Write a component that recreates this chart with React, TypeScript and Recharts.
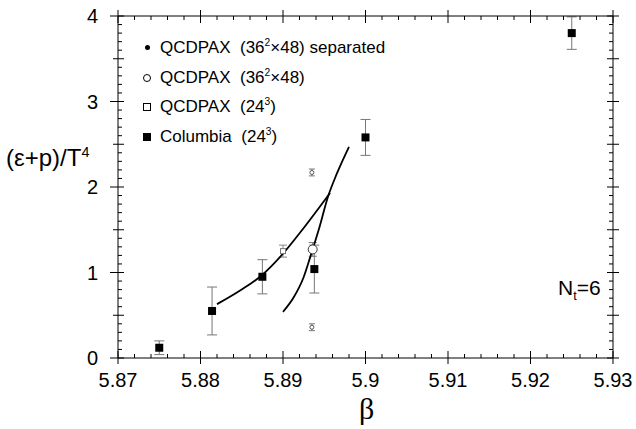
import React from 'react';
import { ScatterChart, Scatter, XAxis, YAxis, ErrorBar } from 'recharts';

// Columbia 24^3 (filled squares)
const COLUMBIA_BETA = [5.875, 5.8814, 5.8875, 5.8938, 5.9, 5.925];
const COLUMBIA_E = [0.12, 0.55, 0.95, 1.04, 2.58, 3.8];
const COLUMBIA_ERR = [0.08, 0.28, 0.2, 0.28, 0.21, 0.19];

// QCDPAX 36^2x48 (open circle)
const QCD36_BETA = [5.8936];
const QCD36_E = [1.27];
const QCD36_ERR = [0.08];

// QCDPAX 24^3 (open square)
const QCD24_BETA = [5.89];
const QCD24_E = [1.25];
const QCD24_ERR = [0.07];

// QCDPAX 36^2x48 separated (small dots)
const SEP_BETA = [5.8935, 5.8935];
const SEP_E = [2.17, 0.36];
const SEP_ERR = [0.04, 0.04];

// fitted curves
const CURVE_A_BETA = [5.882, 5.8848, 5.8874, 5.89, 5.8921, 5.8957];
const CURVE_A_E = [0.63, 0.79, 0.965, 1.22, 1.47, 1.93];
const CURVE_B_BETA = [5.89, 5.8913, 5.8925, 5.8933, 5.8943, 5.8955, 5.8965, 5.898];
const CURVE_B_E = [0.54, 0.71, 0.945, 1.18, 1.49, 1.9, 2.15, 2.47];

const X_TICKS = [5.87, 5.88, 5.89, 5.9, 5.91, 5.92, 5.93];
const X_TICK_LABELS = ['5.87', '5.88', '5.89', '5.9', '5.91', '5.92', '5.93'];
const Y_TICKS = [0, 1, 2, 3, 4];
const Y_TICK_LABELS = ['0', '1', '2', '3', '4'];

const LEGEND_ITEMS = [
  { marker: 'dot', name: 'QCDPAX', size: ['36', '2', '\u00d748'], tail: ' separated' },
  { marker: 'circle', name: 'QCDPAX', size: ['36', '2', '\u00d748'], tail: '' },
  { marker: 'osquare', name: 'QCDPAX', size: ['24', '3', ''], tail: '' },
  { marker: 'square', name: 'Columbia', size: ['24', '3', ''], tail: '' },
];

const pts = (xs: number[], ys: number[], es?: number[]) =>
  xs.map((x, i) => ({ x, y: ys[i], err: es ? es[i] : 0 }));

// minor ticks: 5 subdivisions between majors
const subdivide = (major: number[], n: number) => {
  const out: number[] = [];
  for (let i = 0; i < major.length - 1; i++) {
    for (let k = 0; k < n; k++) out.push(+(major[i] + ((major[i + 1] - major[i]) * k) / n).toFixed(6));
  }
  out.push(major[major.length - 1]);
  return out;
};
const X_ALL = subdivide(X_TICKS, 5);
const Y_ALL = subdivide([0, 0.5, 1, 1.5, 2, 2.5, 3, 3.5, 4], 5);

const near = (a: number, b: number) => Math.abs(a - b) < 1e-6;
const xLabel = (v: number) => {
  const i = X_TICKS.findIndex((t) => near(t, v));
  return i >= 0 ? X_TICK_LABELS[i] : null;
};
const yLabel = (v: number) => {
  const i = Y_TICKS.findIndex((t) => near(t, v));
  return i >= 0 ? Y_TICK_LABELS[i] : null;
};
const yHalf = (v: number) => near(v * 2, Math.round(v * 2));

const FONT = '"Liberation Sans", Arial, Helvetica, sans-serif';

const BottomTick = (props: any) => {
  const { x, y, payload } = props;
  const lab = xLabel(payload.value);
  return (
    <g>
      <line x1={x} x2={x} y1={lab ? y + 6 : y} y2={lab ? y - 7 : y - 4} stroke="#000" strokeWidth={1} />
      {lab && (
        <text x={x} y={y + 29} textAnchor="middle" fontSize={20} fontFamily={FONT} fill="#000">
          {lab}
        </text>
      )}
    </g>
  );
};

const TopTick = (props: any) => {
  const { x, y, payload } = props;
  const lab = xLabel(payload.value);
  return <line x1={x} x2={x} y1={lab ? y - 6 : y} y2={lab ? y + 7 : y + 4} stroke="#000" strokeWidth={1} />;
};

const LeftTick = (props: any) => {
  const { x, y, payload } = props;
  const lab = yLabel(payload.value);
  const half = yHalf(payload.value);
  return (
    <g>
      <line x1={lab ? x - 8 : half ? x - 5 : x} x2={half ? x + 6 : x + 4} y1={y} y2={y} stroke="#000" strokeWidth={1} />
      {lab && (
        <text x={x - 20} y={y + 7} textAnchor="end" fontSize={20} fontFamily={FONT} fill="#000">
          {lab}
        </text>
      )}
    </g>
  );
};

const RightTick = (props: any) => {
  const { x, y, payload } = props;
  const half = yHalf(payload.value);
  return <line x1={half ? x + 6 : x} x2={half ? x - 6 : x - 4} y1={y} y2={y} stroke="#000" strokeWidth={1} />;
};

const FilledSquare = (p: any) => <rect x={p.cx - 4} y={p.cy - 4} width={8} height={8} fill="#000" />;
const OpenCircle = (p: any) => <circle cx={p.cx} cy={p.cy} r={4.5} fill="#fff" stroke="#333" strokeWidth={1} />;
const OpenSquare = (p: any) => <rect x={p.cx - 2.5} y={p.cy - 2.5} width={5} height={5} fill="#fff" stroke="#777" strokeWidth={1} />;
const SmallDot = (p: any) => <circle cx={p.cx} cy={p.cy} r={2} fill="#fff" stroke="#555" strokeWidth={1} />;
const NoShape = () => <g />;

const LegendMarker = ({ kind }: { kind: string }) => {
  if (kind === 'dot') return <span style={{ display: 'inline-block', width: 5, height: 5, borderRadius: 3, background: '#000' }} />;
  if (kind === 'circle') return <span style={{ display: 'inline-block', width: 6, height: 6, borderRadius: 5, border: '1.5px solid #000' }} />;
  if (kind === 'osquare') return <span style={{ display: 'inline-block', width: 6, height: 6, border: '1.5px solid #000' }} />;
  return <span style={{ display: 'inline-block', width: 8, height: 8, background: '#000' }} />;
};

export default function App() {
  const sup = { fontSize: '0.6em', verticalAlign: 'super', lineHeight: 0 } as const;
  return (
    <div style={{ position: 'absolute', left: 0, top: 0, width: 636, height: 429, background: '#fff', fontFamily: FONT }}>
      <ScatterChart width={636} height={429} margin={{ top: 6, right: 13, bottom: 31, left: 78 }}>
        <XAxis xAxisId="b" type="number" dataKey="x" domain={[5.87, 5.93]} ticks={X_ALL} interval={0}
          tick={<BottomTick />} tickLine={false} tickSize={0} tickMargin={0} height={40}
          allowDataOverflow axisLine={{ stroke: '#000' }} />
        <XAxis xAxisId="t" orientation="top" type="number" dataKey="x" domain={[5.87, 5.93]} ticks={X_ALL} interval={0}
          tick={<TopTick />} tickLine={false} tickSize={0} tickMargin={0} height={10}
          allowDataOverflow axisLine={{ stroke: '#000' }} />
        <YAxis yAxisId="l" type="number" dataKey="y" domain={[0, 4]} ticks={Y_ALL} interval={0}
          tick={<LeftTick />} tickLine={false} tickSize={0} tickMargin={0} width={40}
          allowDataOverflow axisLine={{ stroke: '#000' }} />
        <YAxis yAxisId="r" orientation="right" type="number" dataKey="y" domain={[0, 4]} ticks={Y_ALL} interval={0}
          tick={<RightTick />} tickLine={false} tickSize={0} tickMargin={0} width={10}
          allowDataOverflow axisLine={{ stroke: '#000' }} />

        <Scatter xAxisId="b" yAxisId="l" data={pts(CURVE_A_BETA, CURVE_A_E)} shape={NoShape}
          line={{ stroke: '#000', strokeWidth: 1.8 }} lineJointType="monotoneX" isAnimationActive={false} />
        <Scatter xAxisId="b" yAxisId="l" data={pts(CURVE_B_BETA, CURVE_B_E)} shape={NoShape}
          line={{ stroke: '#000', strokeWidth: 1.8 }} lineJointType="monotoneX" isAnimationActive={false} />

        <Scatter xAxisId="b" yAxisId="l" data={pts(SEP_BETA, SEP_E, SEP_ERR)} shape={SmallDot} isAnimationActive={false}>
          <ErrorBar dataKey="err" direction="y" width={3} stroke="#777" strokeWidth={1} />
        </Scatter>
        <Scatter xAxisId="b" yAxisId="l" data={pts(QCD24_BETA, QCD24_E, QCD24_ERR)} shape={OpenSquare} isAnimationActive={false}>
          <ErrorBar dataKey="err" direction="y" width={4} stroke="#888" strokeWidth={1} />
        </Scatter>
        <Scatter xAxisId="b" yAxisId="l" data={pts(QCD36_BETA, QCD36_E, QCD36_ERR)} shape={OpenCircle} isAnimationActive={false}>
          <ErrorBar dataKey="err" direction="y" width={4} stroke="#777" strokeWidth={1} />
        </Scatter>
        <Scatter xAxisId="b" yAxisId="l" data={pts(COLUMBIA_BETA, COLUMBIA_E, COLUMBIA_ERR)} shape={FilledSquare} isAnimationActive={false}>
          <ErrorBar dataKey="err" direction="y" width={5} stroke="#777" strokeWidth={1} />
        </Scatter>
      </ScatterChart>

      {/* legend */}
      <div style={{ position: 'absolute', left: 134, top: 33, fontSize: 17, color: '#000' }}>
        {LEGEND_ITEMS.map((it, i) => (
          <div key={i} style={{ height: 29.8, display: 'flex', alignItems: 'center', whiteSpace: 'nowrap' }}>
            <span style={{ width: 26, display: 'inline-flex', justifyContent: 'center' }}>
              <LegendMarker kind={it.marker} />
            </span>
            <span>
              {it.name}&nbsp; ({it.size[0]}
              <span style={sup}>{it.size[1]}</span>
              {it.size[2]}){it.tail}
            </span>
          </div>
        ))}
      </div>

      {/* N_t = 6 */}
      <div style={{ position: 'absolute', left: 558, top: 276, fontSize: 21, whiteSpace: 'nowrap' }}>
        N<span style={{ fontSize: '0.6em', verticalAlign: 'sub', lineHeight: 0 }}>t</span>=6
      </div>

      {/* axis titles */}
      <div style={{ position: 'absolute', left: 6, top: 144, fontSize: 24, whiteSpace: 'nowrap' }}>
        ({'\u03b5'}+p)/T<span style={sup}>4</span>
      </div>
      <div style={{ position: 'absolute', left: 359, top: 392, fontSize: 30, fontFamily: '"Liberation Serif", serif' }}>
        {'\u03b2'}
      </div>
    </div>
  );
}
